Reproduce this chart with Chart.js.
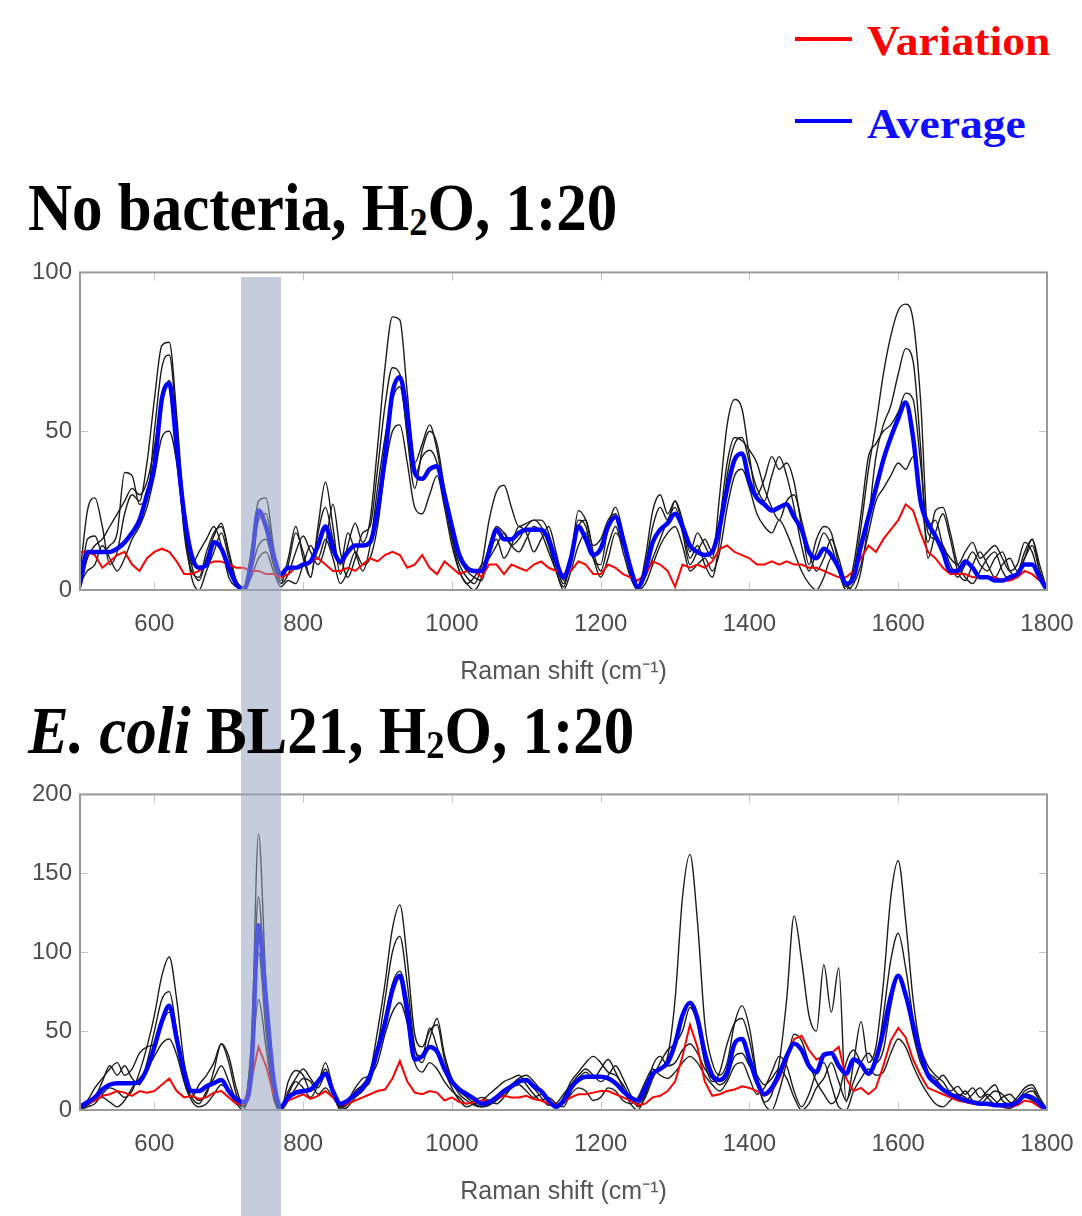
<!DOCTYPE html>
<html>
<head>
<meta charset="utf-8">
<script src="https://cdn.jsdelivr.net/npm/chart.js@4.4.1/dist/chart.umd.min.js"></script>
<style>
  html, body { margin: 0; padding: 0; background: #fff; }
  #page { position: relative; width: 1082px; height: 1216px; overflow: hidden; background: #fff; }
  canvas { position: absolute; left: 0; z-index: 1; }
  #band { position: absolute; background: rgba(150, 163, 190, 0.55); z-index: 2; }
  .titre {
    position: absolute; left: 28px; z-index: 3; white-space: nowrap; color: #000;
    font-family: "Liberation Serif", "Times New Roman", serif; font-weight: bold;
    font-size: 61px; line-height: 61px;
    transform: scaleY(1.1); transform-origin: 0 51px;
  }
  .titre sub { font-size: 0.6em; vertical-align: -0.12em; line-height: 0; }
  .leg-line { position: absolute; left: 795px; width: 57px; height: 4px; z-index: 3; }
  .leg-text {
    position: absolute; left: 867px; z-index: 3; white-space: nowrap;
    font-family: "Liberation Serif", "Times New Roman", serif; font-weight: bold;
    font-size: 39px; line-height: 39px;
    transform: scale(1.17, 1.08); transform-origin: 0 33px;
  }
</style>
</head>
<body>
<div id="page">
  <div class="leg-line" style="top:37px; background:#ff0000;"></div>
  <div class="leg-text" style="top:22px; color:#ff0000;">Variation</div>
  <div class="leg-line" style="top:119px; background:#0000ff;"></div>
  <div class="leg-text" style="top:105px; color:#1010ff;">Average</div>

  <div class="titre" style="top:179px;">No bacteria, H<sub>2</sub>O, 1:20</div>
  <div class="titre" style="top:702px;"><i>E. coli</i> BL21, H<sub>2</sub>O, 1:20</div>

  <canvas id="chartTop" width="1082" height="450" style="top:250px;"></canvas>
  <canvas id="chartBot" width="1082" height="448" style="top:772px;"></canvas>
  <div id="band"></div>
</div>

<script>
// Raman shift grid (cm-1)
const shiftCm = [
  500, 510, 520, 530, 540, 550, 560, 570, 580, 590,
  600, 610, 620, 630, 640, 650, 660, 670, 680, 690,
  700, 710, 720, 730, 740, 750, 760, 770, 780, 790,
  800, 810, 820, 830, 840, 850, 860, 870, 880, 890,
  900, 910, 920, 930, 940, 950, 960, 970, 980, 990,
  1000, 1010, 1020, 1030, 1040, 1050, 1060, 1070, 1080, 1090,
  1100, 1110, 1120, 1130, 1140, 1150, 1160, 1170, 1180, 1190,
  1200, 1210, 1220, 1230, 1240, 1250, 1260, 1270, 1280, 1290,
  1300, 1310, 1320, 1330, 1340, 1350, 1360, 1370, 1380, 1390,
  1400, 1410, 1420, 1430, 1440, 1450, 1460, 1470, 1480, 1490,
  1500, 1510, 1520, 1530, 1540, 1550, 1560, 1570, 1580, 1590,
  1600, 1610, 1620, 1630, 1640, 1650, 1660, 1670, 1680, 1690,
  1700, 1710, 1720, 1730, 1740, 1750, 1760, 1770, 1780, 1790,
  1800
];

const xTicks = [600, 800, 1000, 1200, 1400, 1600, 1800];
const yTicksTop = [0, 50, 100];
const yTicksBot = [0, 50, 100, 150, 200];
const bandRange = [717, 770];

// --- No bacteria, H2O, 1:20 ---
const noBactAvg = [
  2, 12, 12, 12, 12, 13, 15, 18, 22, 30,
  39, 60, 65, 45, 24, 11, 7, 8, 15, 13,
  7, 2, 0, 8, 25, 20, 11, 5, 7, 7,
  8, 9, 14, 20, 13, 9, 12, 14, 14, 15,
  25, 42, 62, 67, 55, 37, 35, 38, 39, 30,
  20, 11, 7, 6, 6, 12, 19, 16, 16, 18,
  19, 19, 19, 16, 9, 4, 10, 20, 16, 11,
  13, 20, 23, 16, 7, 1, 6, 15, 19, 21,
  24, 20, 14, 12, 11, 12, 20, 32, 41, 43,
  34, 29, 27, 25, 26, 27, 23, 19, 12, 10,
  13, 11, 7, 2, 4, 14, 23, 32, 41, 48,
  54, 59, 48, 28, 21, 17, 12, 6, 6, 9,
  7, 4, 4, 3, 3, 4, 5, 8, 8, 4,
  0
];
const noBactVar = [
  12, 12, 11, 7, 9, 11, 12, 8, 6, 10,
  12, 13, 12, 9, 5, 5, 6, 8, 9, 9,
  8, 7, 7, 6, 6, 5, 5, 4, 5, 7,
  8, 9, 10, 8, 6, 6, 7, 6, 8, 10,
  9, 11, 12, 11, 7, 8, 11, 7, 5, 9,
  7, 5, 6, 6, 4, 8, 8, 5, 8, 7,
  6, 8, 9, 7, 6, 5, 6, 9, 8, 5,
  5, 8, 7, 5, 4, 3, 5, 9, 8, 6,
  1, 8, 7, 8, 7, 9, 13, 14, 12, 11,
  10, 8, 8, 9, 8, 9, 8, 8, 7, 7,
  6, 5, 4, 4, 6, 10, 14, 12, 16, 19,
  22, 27, 25, 18, 12, 10, 7, 5, 5, 5,
  4, 4, 4, 4, 3, 3, 4, 6, 5, 3,
  1
];
const noBact1 = [
  5, 25, 29, 20, 8, 12, 24, 30, 28, 40,
  60, 77, 78, 55, 25, 8, 3, 10, 17, 21,
  12, 3, 1, 12, 28, 29, 14, 3, 8, 18,
  12, 4, 20, 34, 20, 5, 14, 21, 15, 22,
  45, 70, 86, 85, 62, 40, 46, 52, 44, 30,
  17, 8, 4, 2, 8, 22, 31, 33, 26, 20,
  21, 22, 22, 18, 8, 2, 10, 25, 22, 14,
  16, 22, 24, 16, 5, 0, 10, 25, 30, 24,
  28, 22, 12, 18, 14, 10, 30, 52, 60, 57,
  42, 30, 35, 42, 38, 40, 34, 20, 8, 16,
  20, 18, 8, 1, 6, 20, 38, 52, 68, 80,
  88, 90, 85, 60, 20, 22, 14, 10, 8, 12,
  15, 10, 12, 14, 10, 6, 8, 15, 12, 4,
  0
];
const noBact2 = [
  0, 16, 17, 12, 14, 18, 37, 36, 27, 28,
  50, 70, 74, 52, 22, 8, 12, 16, 20, 14,
  4, 1, 0, 6, 14, 16, 8, 2, 5, 12,
  17, 12, 8, 14, 27, 12, 4, 10, 18, 20,
  38, 58, 70, 68, 48, 32, 44, 50, 46, 32,
  20, 10, 6, 4, 3, 12, 16, 10, 14, 20,
  18, 12, 16, 20, 12, 3, 8, 20, 22, 12,
  6, 14, 20, 12, 4, 0, 4, 10, 16, 22,
  26, 18, 8, 12, 16, 12, 22, 40, 48, 47,
  44, 40, 32, 26, 22, 28, 30, 22, 12, 6,
  10, 16, 10, 2, 0, 6, 22, 42, 52, 58,
  68, 76, 72, 45, 10, 18, 24, 16, 6, 3,
  8, 12, 8, 4, 8, 10, 6, 10, 14, 6,
  0
];
const noBact3 = [
  2, 6, 8, 14, 10, 6, 10, 16, 20, 26,
  36, 48, 50, 40, 20, 4, 0, 6, 12, 18,
  10, 2, 0, 4, 10, 12, 6, 1, 3, 2,
  8, 14, 10, 16, 10, 2, 6, 12, 8, 10,
  20, 38, 50, 52, 40, 26, 24, 30, 36, 26,
  14, 6, 2, 4, 8, 10, 14, 18, 14, 12,
  16, 20, 18, 12, 6, 0, 6, 14, 18, 10,
  4, 10, 18, 14, 6, 0, 2, 8, 14, 18,
  20, 14, 6, 8, 10, 6, 12, 26, 36, 38,
  32, 24, 20, 18, 22, 18, 12, 6, 2, 0,
  4, 10, 6, 0, 2, 8, 18, 28, 32, 36,
  40, 38, 42, 30, 15, 25, 26, 18, 8, 4,
  2, 6, 10, 12, 6, 3, 5, 12, 16, 8,
  0
];
const noBact4 = [
  0, 10, 14, 16, 20, 24, 28, 32, 30, 34,
  45, 60, 66, 46, 18, 6, 4, 12, 18, 20,
  12, 3, 0, 8, 22, 24, 12, 2, 10, 20,
  10, 4, 18, 26, 16, 8, 18, 12, 6, 14,
  32, 48, 60, 64, 50, 36, 42, 44, 40, 28,
  16, 6, 2, 0, 4, 14, 20, 18, 14, 16,
  20, 22, 20, 14, 6, 1, 10, 22, 20, 10,
  8, 20, 26, 18, 6, 0, 8, 20, 26, 22,
  28, 20, 10, 14, 8, 4, 16, 36, 46, 48,
  40, 32, 28, 36, 42, 36, 26, 14, 6, 12,
  18, 14, 6, 0, 8, 24, 42, 46, 50, 52,
  56, 62, 60, 40, 18, 16, 14, 8, 4, 8,
  12, 8, 6, 10, 12, 6, 4, 10, 16, 6,
  0
];

// --- E. coli BL21, H2O, 1:20 ---
const eColiAvg = [
  2, 5, 8, 13, 16, 17, 17, 17, 18, 26,
  40, 56, 66, 45, 24, 12, 12, 15, 17, 19,
  12, 7, 5, 22, 117, 70, 20, 2, 8, 11,
  12, 13, 18, 23, 12, 4, 6, 10, 14, 22,
  38, 55, 76, 85, 62, 32, 34, 40, 37, 26,
  18, 13, 10, 7, 4, 5, 8, 12, 15, 18,
  19, 15, 12, 6, 2, 6, 14, 19, 21, 21,
  21, 20, 17, 12, 8, 6, 14, 23, 26, 30,
  42, 60, 68, 58, 36, 22, 19, 24, 42, 45,
  32, 18, 10, 14, 23, 34, 42, 38, 28, 24,
  35, 36, 28, 23, 32, 29, 23, 32, 50, 72,
  85, 73, 54, 36, 22, 17, 13, 10, 8, 6,
  5, 4, 4, 3, 3, 3, 5, 9, 8, 4,
  0
];
const eColiVar = [
  2, 4, 6, 9, 10, 12, 11, 9, 12, 11,
  12, 16, 20, 12, 8, 9, 7, 8, 11, 12,
  8, 4, 4, 18, 40, 28, 10, 2, 6, 8,
  10, 7, 9, 12, 8, 3, 4, 6, 8, 10,
  12, 13, 20, 31, 18, 11, 10, 12, 11, 6,
  8, 5, 4, 5, 6, 6, 7, 9, 8, 8,
  9, 7, 6, 4, 3, 5, 8, 10, 10, 11,
  12, 12, 10, 8, 6, 3, 4, 8, 9, 12,
  18, 34, 54, 40, 18, 9, 10, 12, 13, 15,
  14, 12, 9, 12, 20, 32, 45, 47, 38, 32,
  34, 36, 40, 20, 12, 14, 10, 14, 28, 44,
  52, 46, 32, 22, 14, 12, 10, 8, 6, 5,
  4, 4, 3, 3, 2, 2, 3, 6, 5, 2,
  0
];
const eColi1 = [
  0, 2, 4, 10, 14, 12, 8, 12, 24, 40,
  60, 85, 97, 70, 30, 12, 6, 10, 25, 42,
  30, 10, 2, 30, 175, 80, 15, 0, 10, 18,
  14, 8, 16, 30, 14, 2, 4, 12, 16, 24,
  50, 80, 115, 130, 95, 48, 40, 50, 54, 32,
  18, 10, 6, 3, 2, 4, 8, 12, 16, 20,
  22, 18, 12, 6, 2, 8, 18, 24, 30, 34,
  30, 24, 22, 16, 8, 4, 10, 22, 26, 34,
  70, 135, 162, 120, 55, 30, 22, 30, 55, 66,
  52, 22, 5, 10, 30, 70, 123, 95, 60, 50,
  92, 62, 90, 5, 30, 56, 30, 40, 80, 135,
  158, 120, 70, 40, 28, 22, 18, 12, 15, 10,
  14, 8, 12, 16, 6, 4, 8, 14, 16, 8,
  0
];
const eColi2 = [
  1, 4, 8, 18, 28, 22, 28, 20, 16, 30,
  50, 70, 75, 50, 20, 8, 4, 12, 20, 28,
  18, 6, 2, 40, 135, 60, 10, 0, 18, 25,
  22, 12, 18, 26, 12, 0, 2, 8, 12, 20,
  40, 70, 100, 110, 80, 40, 30, 45, 58, 35,
  20, 12, 8, 4, 2, 3, 6, 10, 14, 18,
  18, 14, 8, 3, 4, 10, 16, 22, 26, 22,
  18, 22, 28, 20, 10, 2, 8, 20, 30, 38,
  42, 50, 65, 55, 30, 18, 24, 42, 55, 58,
  44, 20, 4, 0, 12, 30, 48, 44, 30, 18,
  10, 4, 10, 30, 38, 30, 24, 30, 60, 95,
  112, 90, 58, 34, 24, 20, 14, 10, 8, 12,
  6, 4, 8, 12, 10, 5, 4, 10, 12, 6,
  0
];
const eColi3 = [
  0, 3, 6, 8, 5, 2, 6, 14, 20, 26,
  34, 42, 45, 35, 18, 6, 2, 4, 10, 16,
  12, 4, 0, 25, 70, 40, 8, 0, 6, 14,
  20, 18, 10, 14, 8, 2, 6, 14, 20, 22,
  30, 48, 62, 68, 55, 30, 24, 30, 26, 18,
  12, 8, 4, 6, 8, 6, 4, 8, 14, 16,
  12, 8, 10, 6, 2, 4, 10, 14, 12, 6,
  8, 14, 12, 6, 4, 8, 18, 26, 22, 20,
  24, 30, 34, 30, 22, 16, 12, 18, 28, 30,
  20, 10, 14, 24, 34, 28, 12, 2, 10, 24,
  30, 16, 2, 0, 12, 20, 26, 22, 24, 36,
  45, 40, 28, 18, 10, 4, 2, 6, 10, 8,
  4, 6, 10, 6, 2, 1, 4, 8, 6, 2,
  0
];
const eColi4 = [
  2, 6, 14, 20, 26, 30, 22, 26, 36, 40,
  42, 55, 62, 44, 18, 8, 16, 22, 30, 42,
  34, 14, 3, 35, 100, 50, 12, 0, 12, 20,
  26, 20, 14, 22, 10, 1, 4, 10, 14, 18,
  36, 58, 80, 88, 70, 38, 34, 52, 40, 25,
  14, 6, 2, 4, 6, 10, 14, 18, 20, 22,
  16, 10, 6, 8, 4, 2, 12, 20, 24, 20,
  26, 32, 24, 14, 4, 0, 10, 28, 34, 28,
  30, 38, 42, 36, 26, 20, 16, 20, 34, 36,
  28, 22, 16, 20, 26, 20, 8, 0, 4, 14,
  20, 30, 18, 6, 18, 30, 36, 30, 38, 66,
  85, 72, 48, 30, 22, 18, 22, 16, 10, 6,
  10, 14, 8, 4, 8, 10, 6, 12, 14, 6,
  0
];

Chart.defaults.font.family = "'Liberation Sans', Arial, sans-serif";

function toPoints(vals) {
  return vals.map((v, i) => ({ x: shiftCm[i], y: v }));
}

// grey box round the plot area with small inward ticks, matlab style
const boxPlugin = {
  id: 'box',
  afterDatasetsDraw(chart) {
    const { ctx, chartArea: a, scales } = chart;
    ctx.save();
    ctx.strokeStyle = '#c4c4c4';
    ctx.lineWidth = 1;
    scales.x.ticks.forEach(t => {
      const px = Math.round(scales.x.getPixelForValue(t.value)) + 0.5;
      ctx.beginPath();
      ctx.moveTo(px, a.top); ctx.lineTo(px, a.top + 8);
      ctx.moveTo(px, a.bottom); ctx.lineTo(px, a.bottom - 8);
      ctx.stroke();
    });
    scales.y.ticks.forEach(t => {
      const py = Math.round(scales.y.getPixelForValue(t.value)) + 0.5;
      ctx.beginPath();
      ctx.moveTo(a.left, py); ctx.lineTo(a.left + 8, py);
      ctx.moveTo(a.right, py); ctx.lineTo(a.right - 8, py);
      ctx.stroke();
    });
    ctx.strokeStyle = '#9a9a9a';
    ctx.lineWidth = 2;
    ctx.strokeRect(a.left, a.top, a.right - a.left, a.bottom - a.top);
    ctx.restore();
  }
};

function spectrumChart(id, avg, vari, runs, yMax, yTicks) {
  const datasets = [
    { label: 'Average', data: toPoints(avg), borderColor: '#0000ff', borderWidth: 4.5,
      order: 0, cubicInterpolationMode: 'monotone' },
    { label: 'Variation', data: toPoints(vari), borderColor: '#ff0000', borderWidth: 2,
      order: 1, tension: 0 }
  ];
  runs.forEach((r, k) => {
    datasets.push({ label: 'Spectrum ' + (k + 1), data: toPoints(r), borderColor: '#1c1c1c',
      borderWidth: 1.4, order: 2 + k, cubicInterpolationMode: 'monotone' });
  });

  return new Chart(document.getElementById(id), {
    type: 'line',
    data: { datasets },
    options: {
      responsive: false,
      animation: false,
      devicePixelRatio: 1,
      layout: { padding: { top: 17, right: 35, left: 0, bottom: 0 } },
      elements: { point: { radius: 0 } },
      plugins: { legend: { display: false }, tooltip: { enabled: false } },
      scales: {
        x: {
          type: 'linear', min: 500, max: 1800,
          grid: { display: false, drawTicks: false }, border: { display: false },
          afterBuildTicks: s => { s.ticks = xTicks.map(v => ({ value: v })); },
          afterFit: s => { s.height = 110; s.paddingLeft = 0; s.paddingRight = 0; },
          ticks: { padding: 20, color: '#4d4d4d', font: { size: 24 }, maxRotation: 0, autoSkip: false,
                   callback: v => String(v) },
          title: { display: true, text: 'Raman shift (cm\u207B\u00B9)', color: '#555',
                   font: { size: 25 }, padding: { top: 0, bottom: 13 } }
        },
        y: {
          min: 0, max: yMax,
          grid: { display: false, drawTicks: false }, border: { display: false },
          afterBuildTicks: s => { s.ticks = yTicks.map(v => ({ value: v })); },
          afterFit: s => { s.width = 80; },
          ticks: { padding: 8, color: '#4d4d4d', font: { size: 24 }, callback: v => String(v) }
        }
      }
    },
    plugins: [boxPlugin]
  });
}

const topChart = spectrumChart('chartTop', noBactAvg, noBactVar,
  [noBact1, noBact2, noBact3, noBact4], 100, yTicksTop);
const botChart = spectrumChart('chartBot', eColiAvg, eColiVar,
  [eColi1, eColi2, eColi3, eColi4], 200, yTicksBot);

// highlighted band, placed from the top chart's x scale, running down the page
const xs = topChart.scales.x;
const bandLeft = xs.getPixelForValue(bandRange[0]);
const bandRight = xs.getPixelForValue(bandRange[1]);
const band = document.getElementById('band');
const bandTop = 250 + topChart.chartArea.top + 5;
band.style.left = bandLeft + 'px';
band.style.width = (bandRight - bandLeft) + 'px';
band.style.top = bandTop + 'px';
band.style.height = (1216 - bandTop) + 'px';
</script>
</body>
</html>
